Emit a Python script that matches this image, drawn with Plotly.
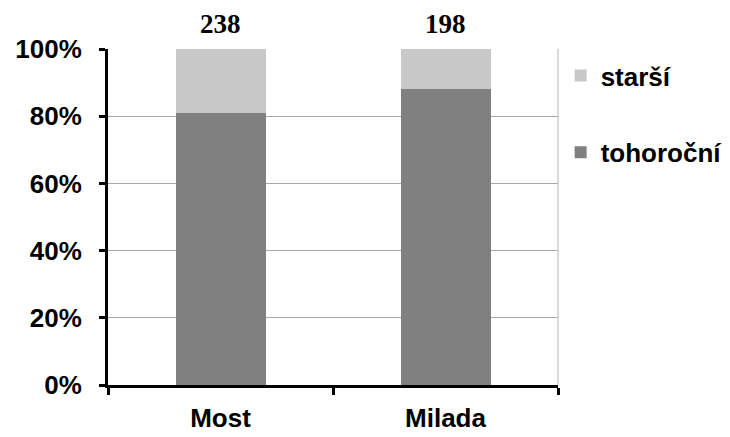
import plotly.graph_objects as go

categories = ["Most", "Milada"]
tohorocni = [81, 88]
starsi = [19, 12]
totals = [238, 198]
series_names = ["tohoroční", "starší"]

dark = "#808080"
light = "#c8c8c8"
font_sans = "Liberation Sans, Arial, sans-serif"
font_serif = "Liberation Serif, Times New Roman, serif"

fig = go.Figure()
fig.add_trace(go.Bar(x=categories, y=tohorocni, name=series_names[0],
                     marker=dict(color=dark, line=dict(width=0)),
                     legendgroup="a", legendrank=2))
fig.add_trace(go.Bar(x=categories, y=starsi, name=series_names[1],
                     marker=dict(color=light, line=dict(width=0)),
                     legendgroup="b", legendrank=1))

for c, t in zip(categories, totals):
    fig.add_annotation(x=c, y=100, text=f"<b>{t}</b>", showarrow=False,
                       yanchor="bottom", yshift=8,
                       font=dict(family=font_serif, size=27, color="black"))

fig.add_shape(type="line", xref="paper", yref="paper", x0=1, x1=1, y0=0, y1=1,
              line=dict(color="#b4b4b4", width=1))

fig.update_layout(
    width=730, height=437,
    margin=dict(l=108, r=172, t=49, b=52),
    paper_bgcolor="white", plot_bgcolor="white",
    barmode="stack", bargap=0.6,
    showlegend=True,
    legend=dict(xref="container", yref="container",
                x=0.768, xanchor="left", y=0.881, yanchor="top",
                traceorder="grouped", tracegroupgap=40,
                font=dict(family=font_sans, size=26, color="black", weight="bold"),
                itemwidth=30),
    xaxis=dict(showline=True, linecolor="black", linewidth=3, automargin=False,
               ticks="outside", tickson="boundaries", ticklen=7, tickwidth=3,
               tickcolor="black", showgrid=False,
               tickfont=dict(family=font_sans, size=26, color="black", weight="bold"),
               ticklabelstandoff=8),
    yaxis=dict(range=[0, 100], dtick=20, ticksuffix="%", automargin=False,
               showline=True, linecolor="black", linewidth=3,
               ticks="outside", ticklen=6, tickwidth=3, tickcolor="black",
               showgrid=True, gridcolor="#a8a8a8", gridwidth=1,
               zeroline=False,
               tickfont=dict(family=font_sans, size=26, color="black", weight="bold"),
               ticklabelstandoff=12),
)

fig.write_html("out.html", config={"displayModeBar": False},
               post_script="document.body.style.margin='0';")
